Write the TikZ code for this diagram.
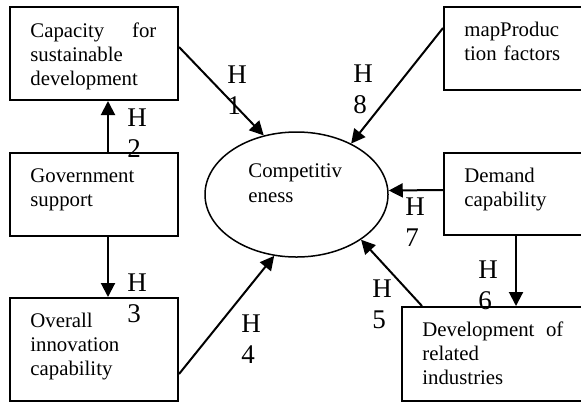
\documentclass[tikz,border=0pt]{standalone}
\usepackage{fontspec}
\setmainfont{Liberation Serif}
\usetikzlibrary{arrows.meta,positioning,calc,shapes.geometric}

\tikzset{
  factor/.style={draw, line width=1pt, minimum width=84pt, inner sep=0pt},
  factortext/.style={anchor=base west, inner sep=0pt, align=left, font=\fontsize{10.4}{12}\selectfont},
  hyp/.style={line width=1pt, -{Triangle[length=7pt,width=7pt]}},
  hyplabel/.style={anchor=base west, inner sep=0pt, align=left, text width=12pt, font=\fontsize{13.5}{15.5}\selectfont}
}

\begin{document}
\begin{tikzpicture}[x=0.5pt, y=-0.5pt]
\useasboundingbox (0,0) rectangle (581,403);

% factor boxes
\node[factor, minimum height=46.5pt] (cap) at (94,53.5) {};
\node[factor, minimum height=41.5pt] (gov) at (94,194.5) {};
\node[factor, minimum height=51.5pt] (ovr) at (94,349.5) {};
\node[factor, minimum width=71pt, minimum height=41.5pt] (map) at (515,48.5) {};
\node[factor, minimum width=71pt, minimum height=41pt] (dem) at (515,194) {};
\node[factor, minimum width=92pt, minimum height=47pt] (dev) at (494,354) {};

\node[factortext, text width=63pt] (capT) at ($(cap.north west)+(21,31)$) {Capacity\hfill for\\sustainable\\development};
\node[factortext, text width=63pt] (govT) at ($(gov.north west)+(21,30)$) {Government\\support};
\node[factortext, text width=63pt] (ovrT) at ($(ovr.north west)+(21,30)$) {Overall\\innovation\\capability};
\node[factortext, text width=60pt] (mapT) at ($(map.north west)+(21,30)$) {mapProduc\\tion factors};
\node[factortext, text width=60pt] (demT) at ($(dem.north west)+(21,30)$) {Demand\\capability};
\node[factortext, text width=70.5pt] (devT) at ($(dev.north west)+(21,30)$) {Development\hfill of\\related\\industries};

% centre
\node[draw, ellipse, line width=0.75pt, minimum width=91.5pt, minimum height=62.5pt, inner sep=0pt] (comp) at (296.5,194.5) {};
\node[factortext, font=\fontsize{10.4}{12.5}\selectfont, text width=50pt] (compT) at ($(comp.center)+(-48.5,-17.5)$) {Competitiv\\eness};

% hypotheses
\draw[hyp] ($(cap.north east)+(0,41)$) -- (comp.119);
\draw[hyp] ($(gov.north)+(14,0)$) -- ($(cap.south)+(14,0)$);
\draw[hyp] ($(gov.south)+(14,0)$) -- ($(ovr.north)+(14,0)$);
\draw[hyp] ($(ovr.north east)+(0,77)$) -- (comp.250);
\draw[hyp] ($(dev.north west)+(21,0)$) -- (comp.325);
\draw[hyp] ($(dem.south west)+(73,0)$) -- ($(dev.north west)+(115,0)$);
\draw[hyp] ([yshift=2pt]dem.west) -- ([yshift=2pt]comp.east);
\draw[hyp] ($(map.north west)+(0,22)$) -- (comp.43);

\node[hyplabel] (h1) at (227,83) {H\\1};
\node[hyplabel] (h2) at (127,126) {H\\2};
\node[hyplabel] (h3) at (127,291) {H\\3};
\node[hyplabel] (h4) at (241,332) {H\\4};
\node[hyplabel] (h5) at (372,297) {H\\5};
\node[hyplabel] (h6) at (478,278) {H\\6};
\node[hyplabel] (h7) at (405,215) {H\\7};
\node[hyplabel] (h8) at (353,82) {H\\8};
\end{tikzpicture}
\end{document}
